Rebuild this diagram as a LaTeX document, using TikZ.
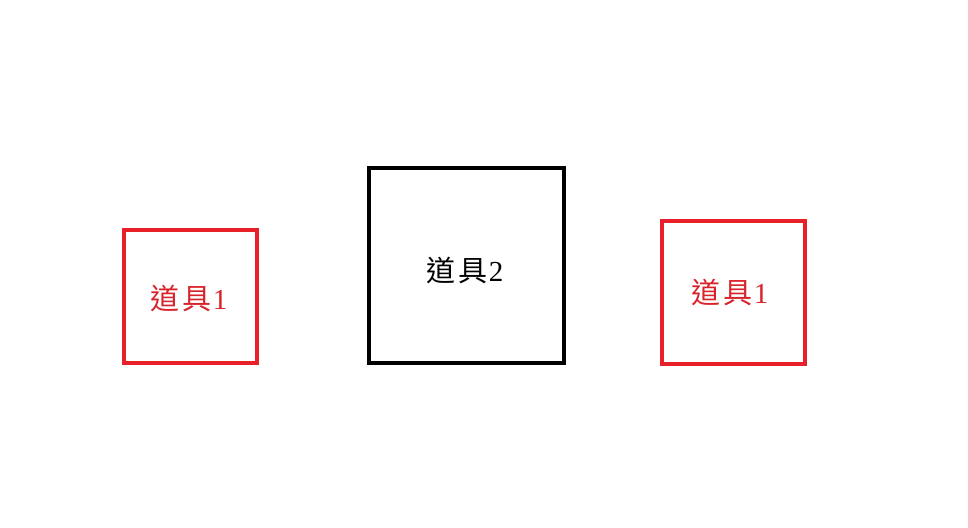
\documentclass[tikz,border=0pt]{standalone}
\usepackage{fontspec}
\setmainfont{Liberation Serif}
\newfontfamily\cjk{Noto Sans CJK TC}
\definecolor{boxred}{HTML}{E8202A}
\definecolor{txtred}{HTML}{D9232B}
\newcommand{\daoju}{{\cjk 道\hspace{3pt}具}\hspace{1pt}}
\tikzset{
  redbox/.style={draw=boxred, line width=4pt},
  blackbox/.style={draw=black, line width=4.5pt},
  lbl/.style={font=\fontsize{29}{32}\selectfont, inner sep=0pt},
}
\begin{document}
\begin{tikzpicture}[x=1pt,y=-1pt]
\useasboundingbox[fill=white] (0,0) rectangle (968,527);
\draw[redbox] (124,230) rectangle (257,363);
\draw[blackbox] (369,168) rectangle (564,363);
\draw[redbox] (662,221) rectangle (805,364);
\node[lbl, text=txtred] (t1) at (189,299) {\daoju 1};
\node[lbl, text=black] (t2) at (465,271) {\daoju 2};
\node[lbl, text=txtred] (t3) at (730,293) {\daoju 1};
\end{tikzpicture}
\end{document}
